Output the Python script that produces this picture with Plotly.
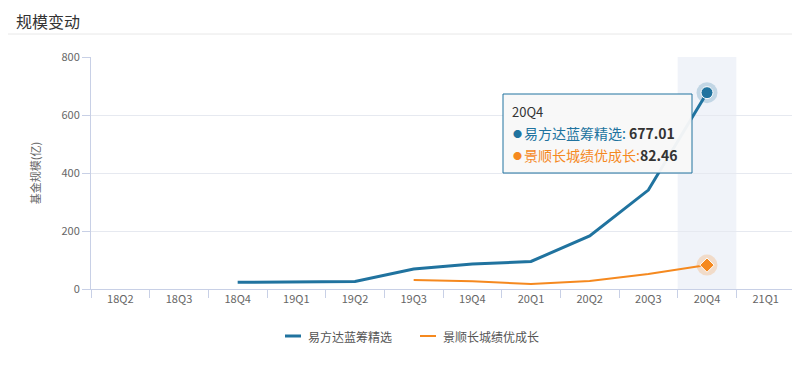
import plotly.graph_objects as go

quarters = ["18Q2", "18Q3", "18Q4", "19Q1", "19Q2", "19Q3", "19Q4", "20Q1", "20Q2", "20Q3", "20Q4", "21Q1"]
fund_a_name = "易方达蓝筹精选"
fund_b_name = "景顺长城绩优成长"
fund_a = [None, None, 23, 24, 26, 69, 86, 95, 183, 341, 677.01, None]
fund_b = [None, None, None, None, None, 31, 27, 17, 28, 52, 82.46, None]
y_ticks = [0, 200, 400, 600, 800]
highlight = "20Q4"

BLUE = "#20739f"
ORANGE = "#f5891f"
FONT = "Noto Sans CJK SC, Microsoft YaHei, sans-serif"

OFF = 8  # page body margin
W, H = 800 - OFF, 375 - OFF
# plot area in page pixels: x 91..795, y 57..289
L, R, T, B = 91 - OFF, 800 - 795, 57 - OFF, 375 - 289
PW, PH = W - L - R, H - T - B


def px(x):
    return (x - OFF - L) / PW


def py(y):
    return (H - B - (y - OFF)) / PH


hi = quarters.index(highlight)

fig = go.Figure()
fig.add_trace(go.Scatter(x=quarters, y=fund_a, name=fund_a_name, mode="lines",
                         line=dict(color=BLUE, width=3), hoverinfo="skip"))
fig.add_trace(go.Scatter(x=quarters, y=fund_b, name=fund_b_name, mode="lines",
                         line=dict(color=ORANGE, width=2), hoverinfo="skip"))
fig.add_trace(go.Scatter(x=[quarters[hi]], y=[fund_a[hi]], mode="markers",
                         marker=dict(size=21, color=BLUE, opacity=0.22), hoverinfo="skip"))
fig.add_trace(go.Scatter(x=[quarters[hi]], y=[fund_a[hi]], mode="markers",
                         marker=dict(size=12, color=BLUE, line=dict(color="white", width=1)), hoverinfo="skip"))
fig.add_trace(go.Scatter(x=[quarters[hi]], y=[fund_b[hi]], mode="markers",
                         marker=dict(size=21, color=ORANGE, opacity=0.22), hoverinfo="skip"))
fig.add_trace(go.Scatter(x=[quarters[hi]], y=[fund_b[hi]], mode="markers",
                         marker=dict(size=11, symbol="diamond", color=ORANGE, line=dict(color="white", width=1)),
                         hoverinfo="skip"))

fig.add_shape(type="rect", xref="x", yref="paper", x0=hi - 0.5, x1=hi + 0.5, y0=0, y1=1,
              fillcolor="#f0f3f9", line=dict(width=0), layer="below")
fig.add_shape(type="line", xref="paper", yref="paper", x0=px(0), x1=px(820), y0=py(34), y1=py(34),
              line=dict(color="#e8e8e8", width=1))

# title
fig.add_annotation(xref="paper", yref="paper", x=px(15), y=py(8), xanchor="left", yanchor="top",
                   text="规模变动", showarrow=False, borderpad=0,
                   font=dict(size=16, color="#333", family=FONT))

# tooltip box
fig.add_shape(type="rect", xref="paper", yref="paper", x0=px(503), x1=px(692), y0=py(173), y1=py(94),
              fillcolor="rgba(248,248,248,0.96)", line=dict(color=BLUE, width=1), layer="above")
fig.add_annotation(xref="paper", yref="paper", x=px(510), y=py(111), xanchor="left", yanchor="middle",
                   text=highlight, showarrow=False, font=dict(size=13, color="#333", family=FONT))
for name, vals, col, yy in [(fund_a_name, fund_a, BLUE, 133), (fund_b_name, fund_b, ORANGE, 155)]:
    fig.add_annotation(xref="paper", yref="paper", x=px(511), y=py(yy), xanchor="left", yanchor="middle",
                       text="●", showarrow=False, font=dict(size=9, color=col, family=FONT))
    sep = ": " if yy == 133 else ":"
    fig.add_annotation(xref="paper", yref="paper", x=px(522), y=py(yy), xanchor="left", yanchor="middle",
                       text=f"<span style='color:{col}'>{name}{sep}</span><b>{vals[hi]:.2f}</b>",
                       showarrow=False, font=dict(size=14, color="#333", family=FONT))

# legend
for name, col, wdt, x0 in [(fund_a_name, BLUE, 3, 285), (fund_b_name, ORANGE, 2, 420)]:
    fig.add_shape(type="line", xref="paper", yref="paper", x0=px(x0), x1=px(x0 + 16), y0=py(336), y1=py(336),
                  line=dict(color=col, width=wdt))
    fig.add_annotation(xref="paper", yref="paper", x=px(x0 + 21), y=py(336), xanchor="left", yanchor="middle",
                       text=name, showarrow=False, font=dict(size=12, color="#555", family=FONT))

fig.update_layout(
    width=W, height=H,
    margin=dict(l=L, r=R, t=T, b=B, autoexpand=False),
    paper_bgcolor="white", plot_bgcolor="white",
    font=dict(family=FONT, color="#666", size=11),
    showlegend=False,
)
fig.update_xaxes(type="category", categoryorder="array", categoryarray=quarters,
                 range=[-0.5, len(quarters) - 0.5], tickson="boundaries", ticks="outside",
                 ticklen=8, tickcolor="#c8d0e6", showline=True, linecolor="#c8d0e6",
                 showgrid=False, tickfont=dict(size=11, color="#666"), fixedrange=True, automargin=False)
fig.update_yaxes(range=[0, 800], tickvals=y_ticks, showgrid=True, gridcolor="#e6e9f0",
                 showline=True, linecolor="#c8d0e6", ticks="outside", ticklen=8, tickcolor="#c8d0e6",
                 zeroline=False, tickfont=dict(size=11, color="#666"), automargin=False,
                 title=dict(text="基金规模(亿)", font=dict(size=11, color="#666"), standoff=18))

fig.write_html("out.html")
